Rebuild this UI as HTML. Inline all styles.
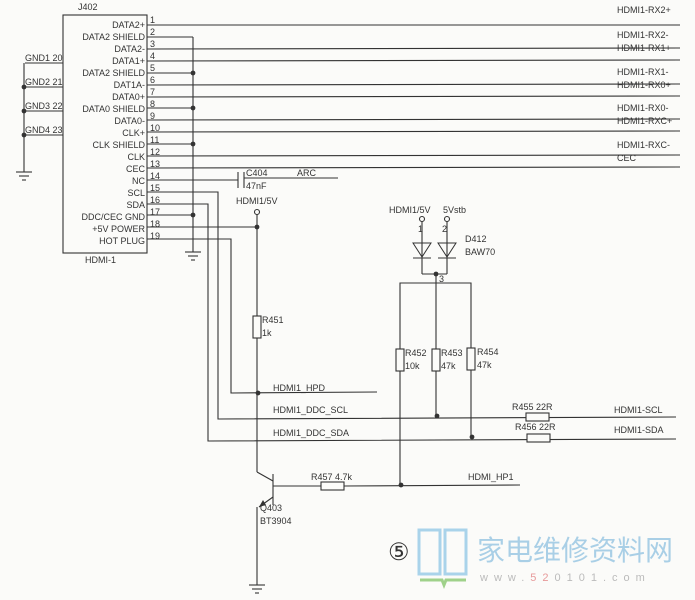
<!DOCTYPE html>
<html><head><meta charset="utf-8"><style>
html,body{margin:0;padding:0;background:#fbfbf9;}
svg{display:block}
text{font-family:"Liberation Sans",sans-serif;font-size:9px;fill:#333;}
</style></head><body>
<svg width="695" height="600" viewBox="0 0 695 600" xmlns="http://www.w3.org/2000/svg">
<g stroke="#333" stroke-width="1.1" fill="none">
<!-- connector box -->
<rect x="63" y="15" width="84" height="238"/>
<!-- left GND -->
<line x1="25" y1="63" x2="63" y2="63"/><line x1="25" y1="87" x2="63" y2="87"/>
<line x1="25" y1="111" x2="63" y2="111"/><line x1="25" y1="135" x2="63" y2="135"/>
<line x1="24" y1="63" x2="24" y2="172"/>
<line x1="16" y1="172" x2="32" y2="172"/><line x1="19" y1="176" x2="29" y2="176"/><line x1="22" y1="180" x2="26" y2="180"/>
<!-- long pins -->
<line x1="147" y1="25" x2="680" y2="25"/>
<line x1="147" y1="49" x2="680" y2="48"/>
<line x1="147" y1="61" x2="680" y2="60"/>
<line x1="147" y1="85" x2="680" y2="84"/>
<line x1="147" y1="97" x2="680" y2="96"/>
<line x1="147" y1="120" x2="680" y2="119"/>
<line x1="147" y1="132" x2="680" y2="131"/>
<line x1="147" y1="156" x2="680" y2="155"/>
<line x1="147" y1="168" x2="680" y2="167"/>
<!-- shield pins -->
<line x1="147" y1="37" x2="193" y2="37"/>
<line x1="147" y1="73" x2="193" y2="73"/>
<line x1="147" y1="108" x2="193" y2="108"/>
<line x1="147" y1="144" x2="193" y2="144"/>
<line x1="147" y1="215" x2="193" y2="215"/>
<line x1="193" y1="37" x2="193" y2="252"/>
<line x1="185" y1="252" x2="201" y2="252"/><line x1="188" y1="256" x2="198" y2="256"/><line x1="191" y1="260" x2="195" y2="260"/>
<!-- NC / C404 -->
<line x1="147" y1="180" x2="238" y2="180"/>
<line x1="238" y1="172" x2="238" y2="188"/><line x1="244" y1="172" x2="244" y2="188"/>
<line x1="244" y1="178" x2="338" y2="178"/>
<!-- SCL SDA HPD -->
<polyline points="147,192 218,192 218,419 676,417"/>
<polyline points="147,204 208,204 208,441 676,439"/>
<polyline points="147,239 231,239 231,393 377,392"/>
<line x1="147" y1="227" x2="257" y2="227"/>
<!-- 5V rail -->
<circle cx="257" cy="212" r="2.5"/>
<line x1="257" y1="214" x2="257" y2="316"/>
<rect x="253" y="316" width="8" height="22"/>
<line x1="257" y1="338" x2="257" y2="472"/>
<!-- transistor -->
<line x1="273" y1="474" x2="273" y2="505"/>
<line x1="257" y1="472" x2="273" y2="481"/>
<line x1="273" y1="497" x2="259" y2="507"/>
<line x1="257" y1="507" x2="257" y2="585"/>
<line x1="249" y1="585" x2="265" y2="585"/><line x1="252" y1="589" x2="262" y2="589"/><line x1="255" y1="593" x2="259" y2="593"/>
<line x1="273" y1="486" x2="321" y2="486"/>
<rect x="321" y="482" width="23" height="8"/>
<line x1="344" y1="486" x2="520" y2="485"/>
<!-- diodes -->
<circle cx="422" cy="219" r="2.5"/><circle cx="447" cy="219" r="2.5"/>
<line x1="422" y1="221" x2="422" y2="274"/><line x1="447" y1="221" x2="447" y2="274"/>
<line x1="422" y1="274" x2="447" y2="274"/>
<line x1="413" y1="258" x2="431" y2="258"/><line x1="438" y1="258" x2="456" y2="258"/>
<line x1="436" y1="274" x2="436" y2="416"/>
<polyline points="400,485 400,283 471,283 471,439"/>
<rect x="396" y="349" width="8" height="22" fill="#fbfbf9"/>
<rect x="432" y="349" width="8" height="22" fill="#fbfbf9"/>
<rect x="467" y="348" width="8" height="22" fill="#fbfbf9"/>
<rect x="526" y="413" width="23" height="8" fill="#fbfbf9"/>
<rect x="527" y="434" width="23" height="8" fill="#fbfbf9"/>
</g>
<g fill="#333">
<path d="M413,243 L431,243 L422,257 Z" fill="none" stroke="#333"/>
<path d="M438,243 L456,243 L447,257 Z" fill="none" stroke="#333"/>
<path d="M259,507 L263,500 L266,505 Z"/>
<circle cx="24" cy="87" r="2.4"/><circle cx="24" cy="111" r="2.4"/><circle cx="24" cy="135" r="2.4"/>
<circle cx="193" cy="73" r="2.4"/><circle cx="193" cy="108" r="2.4"/><circle cx="193" cy="144" r="2.4"/><circle cx="193" cy="215" r="2.4"/>
<circle cx="257" cy="227" r="2.4"/><circle cx="258" cy="393" r="2.4"/>
<circle cx="436" cy="274" r="2.4"/><circle cx="437" cy="416" r="2.4"/><circle cx="472" cy="437" r="2.4"/><circle cx="401" cy="485" r="2.4"/>
</g>
<g>
<text x="78" y="10">J402</text>
<text x="85" y="263">HDMI-1</text>
<text x="25" y="61">GND1 20</text><text x="25" y="85">GND2 21</text><text x="25" y="109">GND3 22</text><text x="25" y="133">GND4 23</text>
<g text-anchor="end">
<text x="145" y="28">DATA2+</text><text x="145" y="40">DATA2 SHIELD</text><text x="145" y="52">DATA2-</text>
<text x="145" y="64">DATA1+</text><text x="145" y="76">DATA2 SHIELD</text><text x="145" y="88">DAT1A-</text>
<text x="145" y="100">DATA0+</text><text x="145" y="112">DATA0 SHIELD</text><text x="145" y="124">DATA0-</text>
<text x="145" y="136">CLK+</text><text x="145" y="148">CLK SHIELD</text><text x="145" y="160">CLK</text>
<text x="145" y="172">CEC</text><text x="145" y="184">NC</text><text x="145" y="196">SCL</text>
<text x="145" y="208">SDA</text><text x="145" y="220">DDC/CEC GND</text><text x="145" y="232">+5V POWER</text>
<text x="145" y="244">HOT PLUG</text>
</g>
<text x="150" y="23">1</text><text x="150" y="35">2</text><text x="150" y="47">3</text><text x="150" y="59">4</text>
<text x="150" y="71">5</text><text x="150" y="83">6</text><text x="150" y="95">7</text><text x="150" y="107">8</text>
<text x="150" y="119">9</text><text x="150" y="131">10</text><text x="150" y="143">11</text><text x="150" y="155">12</text>
<text x="150" y="167">13</text><text x="150" y="179">14</text><text x="150" y="191">15</text><text x="150" y="203">16</text>
<text x="150" y="215">17</text><text x="150" y="227">18</text><text x="150" y="239">19</text>
<text x="617" y="13">HDMI1-RX2+</text><text x="617" y="38">HDMI1-RX2-</text><text x="617" y="51">HDMI1-RX1+</text>
<text x="617" y="75">HDMI1-RX1-</text><text x="617" y="88">HDMI1-RX0+</text><text x="617" y="111">HDMI1-RX0-</text>
<text x="617" y="124">HDMI1-RXC+</text><text x="617" y="148">HDMI1-RXC-</text><text x="617" y="161">CEC</text>
<text x="246" y="176">C404</text><text x="297" y="176">ARC</text><text x="246" y="189">47nF</text>
<text x="236" y="204">HDMI1/5V</text>
<text x="262" y="323">R451</text><text x="262" y="336">1k</text>
<text x="273" y="391">HDMI1_HPD</text>
<text x="273" y="413">HDMI1_DDC_SCL</text>
<text x="273" y="436">HDMI1_DDC_SDA</text>
<text x="389" y="213">HDMI1/5V</text><text x="443" y="213">5Vstb</text>
<text x="418" y="232">1</text><text x="442" y="232">2</text>
<text x="465" y="242">D412</text><text x="465" y="255">BAW70</text>
<text x="439" y="282">3</text>
<text x="405" y="356">R452</text><text x="405" y="369">10k</text>
<text x="441" y="356">R453</text><text x="441" y="369">47k</text>
<text x="477" y="355">R454</text><text x="477" y="368">47k</text>
<text x="512" y="410">R455 22R</text><text x="515" y="430">R456 22R</text>
<text x="614" y="413">HDMI1-SCL</text><text x="614" y="433">HDMI1-SDA</text>
<text x="311" y="480">R457 4.7k</text><text x="468" y="480">HDMI_HP1</text>
<text x="260" y="511">Q403</text><text x="260" y="524">BT3904</text>
<text x="388" y="560" style="font-size:24px;font-family:'Liberation Serif',serif">⑤</text>
</g>
<!-- watermark -->
<g fill="none" stroke="#a9d3ea" stroke-width="3">
<path d="M419,530 L440,530 L440,574 L419,574 Z"/><path d="M445,530 L466,530 L466,574 L445,574 Z"/>
</g>
<path d="M420,580 L442,580 L444,585 L446,580 L466,580" stroke="#9fd18a" stroke-width="3" fill="none"/>
<text x="477" y="560" style="font-size:28px;fill:#a9cfe6;font-family:'Liberation Sans','Noto Sans CJK SC',sans-serif">家电维修资料网</text>
<text x="480" y="581" style="font-size:11px;fill:#bbb;letter-spacing:6px">www.<tspan style="fill:#e79a9a">52</tspan>0101.com</text>
</svg>
</body></html>
